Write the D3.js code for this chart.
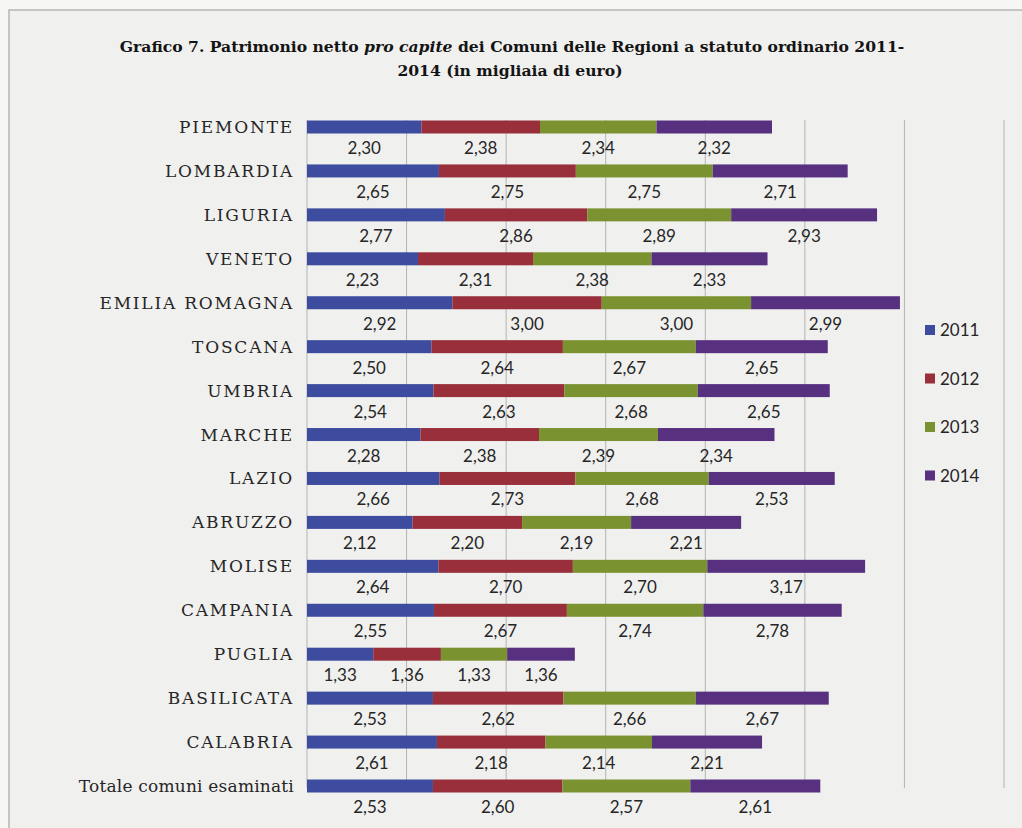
<!DOCTYPE html>
<html>
<head>
<meta charset="utf-8">
<script src="https://cdn.jsdelivr.net/npm/d3@7"></script>
<style>
  body { margin: 0; background: #f6f6f5; }
  svg { display: block; }
</style>
</head>
<body>
<svg width="1022" height="828"></svg>
<script>
const regions = [
  "PIEMONTE", "LOMBARDIA", "LIGURIA", "VENETO", "EMILIA ROMAGNA", "TOSCANA",
  "UMBRIA", "MARCHE", "LAZIO", "ABRUZZO", "MOLISE", "CAMPANIA", "PUGLIA",
  "BASILICATA", "CALABRIA", "Totale comuni esaminati"
];
const years = ["2011", "2012", "2013", "2014"];
const v2011 = [2.30, 2.65, 2.77, 2.23, 2.92, 2.50, 2.54, 2.28, 2.66, 2.12, 2.64, 2.55, 1.33, 2.53, 2.61, 2.53];
const v2012 = [2.38, 2.75, 2.86, 2.31, 3.00, 2.64, 2.63, 2.38, 2.73, 2.20, 2.70, 2.67, 1.36, 2.62, 2.18, 2.60];
const v2013 = [2.34, 2.75, 2.89, 2.38, 3.00, 2.67, 2.68, 2.39, 2.68, 2.19, 2.70, 2.74, 1.33, 2.66, 2.14, 2.57];
const v2014 = [2.32, 2.71, 2.93, 2.33, 2.99, 2.65, 2.65, 2.34, 2.53, 2.21, 3.17, 2.78, 1.36, 2.67, 2.21, 2.61];
const xTicks = [0, 2, 4, 6, 8, 10, 12, 14];

const colors = ["#3d4c9e", "#982f3b", "#7b9230", "#573180"];

const rows = regions.map((r, i) => ({
  region: r, "2011": v2011[i], "2012": v2012[i], "2013": v2013[i], "2014": v2014[i]
}));
const stacked = d3.stack().keys(years)(rows);

const svg = d3.select("svg");

// page frame
svg.append("rect")
  .attr("x", 9).attr("y", 10)
  .attr("width", 1030).attr("height", 830)
  .attr("fill", "#f0f0ef")
  .attr("stroke", "#b5b5b5")
  .attr("stroke-width", 1.5);

const x = d3.scaleLinear().domain([0, 14]).range([307, 1004]);
const y = d3.scalePoint().domain(regions).range([127, 786]);
const color = d3.scaleOrdinal().domain(years).range(colors);

// title
const title = svg.append("text")
  .attr("x", 512).attr("y", 52)
  .attr("text-anchor", "middle")
  .style("font-family", "'DejaVu Serif', serif")
  .style("font-weight", "bold")
  .style("font-size", "15.6px")
  .attr("fill", "#141414");
title.append("tspan").text("Grafico 7. Patrimonio netto ");
title.append("tspan").style("font-style", "italic").text("pro capite");
title.append("tspan").text(" dei Comuni delle Regioni a statuto ordinario 2011-");
svg.append("text")
  .attr("x", 510).attr("y", 76)
  .attr("text-anchor", "middle")
  .style("font-family", "'DejaVu Serif', serif")
  .style("font-weight", "bold")
  .style("font-size", "15.6px")
  .attr("fill", "#141414")
  .text("2014 (in migliaia di euro)");

// gridlines
svg.append("g")
  .selectAll("line")
  .data(xTicks)
  .join("line")
  .attr("x1", d => x(d)).attr("x2", d => x(d))
  .attr("y1", 120).attr("y2", 788)
  .attr("stroke", "#b3b3b3")
  .attr("stroke-width", 1);

// bars
svg.append("g")
  .selectAll("g")
  .data(stacked)
  .join("g")
  .attr("fill", d => color(d.key))
  .selectAll("rect")
  .data(d => d)
  .join("rect")
  .attr("x", d => x(d[0]))
  .attr("y", d => y(d.data.region) - 6.5)
  .attr("width", d => x(d[1]) - x(d[0]))
  .attr("height", 13);

// value labels
const fmt = v => d3.format(".2f")(v).replace(".", ",");
svg.append("g")
  .selectAll("g")
  .data(stacked)
  .join("g")
  .selectAll("text")
  .data(d => d)
  .join("text")
  .attr("x", d => x((d[0] + d[1]) / 2))
  .attr("y", d => y(d.data.region) + 27)
  .attr("text-anchor", "middle")
  .style("font-family", "Lato, sans-serif")
  .style("font-size", "17px")
  .attr("fill", "#262626")
  .text(d => fmt(d[1] - d[0]));

// category labels
svg.append("g")
  .selectAll("text")
  .data(regions)
  .join("text")
  .attr("x", 294)
  .attr("y", d => y(d) + 6)
  .attr("text-anchor", "end")
  .style("font-family", "'DejaVu Serif', serif")
  .style("font-size", "17px")
  .style("letter-spacing", d => d === d.toUpperCase() ? "1.8px" : "0.2px")
  .attr("fill", "#262626")
  .text(d => d);

// legend
const legend = svg.append("g")
  .selectAll("g")
  .data(years)
  .join("g")
  .attr("transform", (d, i) => `translate(925,${330 + i * 48.5})`);
legend.append("rect")
  .attr("x", 0).attr("y", -5)
  .attr("width", 10).attr("height", 10)
  .attr("fill", d => color(d));
legend.append("text")
  .attr("x", 15).attr("y", 6)
  .style("font-family", "Lato, sans-serif")
  .style("font-size", "17px")
  .attr("fill", "#262626")
  .text(d => d);
</script>
</body>
</html>
